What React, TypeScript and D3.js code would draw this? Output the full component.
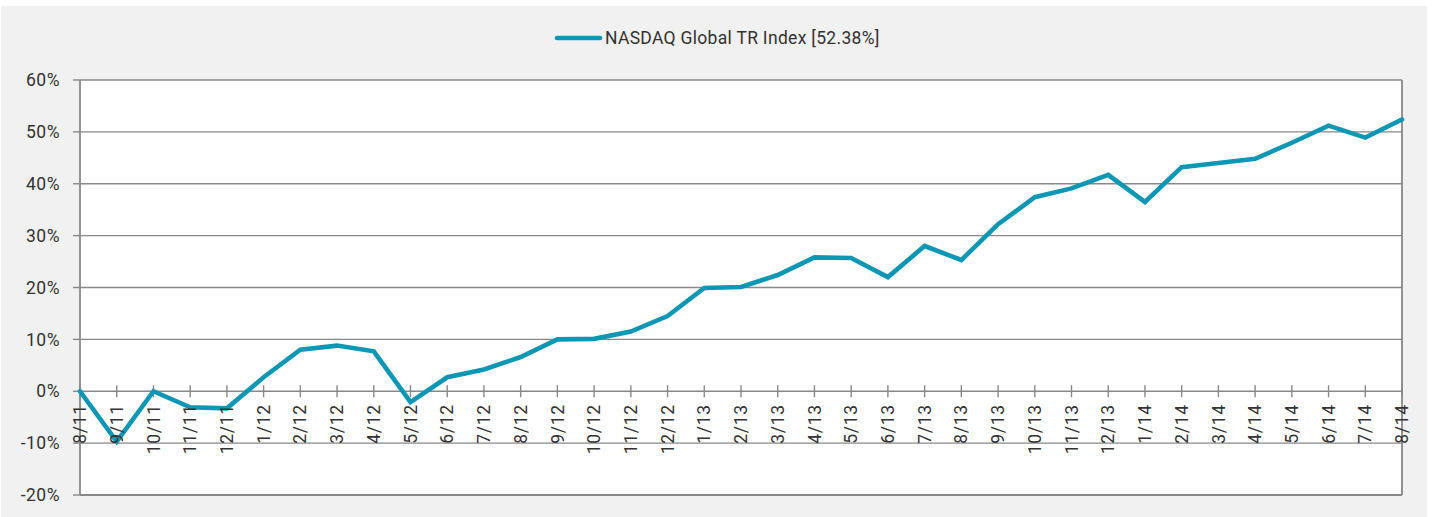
import React from "react";
import * as d3 from "d3";

const categories: string[] = [
  "8/11", "9/11", "10/11", "11/11", "12/11",
  "1/12", "2/12", "3/12", "4/12", "5/12", "6/12", "7/12", "8/12", "9/12", "10/12", "11/12", "12/12",
  "1/13", "2/13", "3/13", "4/13", "5/13", "6/13", "7/13", "8/13", "9/13", "10/13", "11/13", "12/13",
  "1/14", "2/14", "3/14", "4/14", "5/14", "6/14", "7/14", "8/14",
];

const nasdaqValues: number[] = [
  0, -9.7, 0, -3.1, -3.3,
  2.7, 8.0, 8.8, 7.7, -2.1, 2.7, 4.2, 6.6, 10.0, 10.1, 11.5, 14.5,
  19.9, 20.1, 22.4, 25.8, 25.7, 22.0, 28.0, 25.3, 32.2, 37.4, 39.1, 41.7,
  36.5, 43.2, 44.0, 44.8, 47.9, 51.2, 48.9, 52.38,
];

const yTicks: number[] = [-20, -10, 0, 10, 20, 30, 40, 50, 60];
const seriesName = "NASDAQ Global TR Index [52.38%]";

const W = 1432;
const H = 517;
const LEFT = 80;
const RIGHT = 1402;
const TOP = 80;
const BOTTOM = 495;
const LINE_COLOR = "#0d97b5";
const GRID = "#888888";
const TEXT = "#333333";
const FONT = "Roboto, 'DejaVu Sans', sans-serif";

export default function App() {
  const x = d3.scalePoint<string>().domain(categories).range([LEFT, RIGHT]);
  const y = d3.scaleLinear().domain([-20, 60]).range([BOTTOM, TOP]);
  const line = d3
    .line<number>()
    .x((_, i) => x(categories[i]) as number)
    .y((d) => y(d));
  const y0 = y(0);

  return (
    <svg
      width={W}
      height={H}
      style={{ position: "absolute", left: 0, top: 0, display: "block" }}
      fontFamily={FONT}
    >
      <rect x={0} y={0} width={W} height={H} fill="#ffffff" />
      <rect x={1} y={6} width={1426} height={H - 6} fill="#f1f1f1" />
      <rect x={LEFT} y={TOP} width={RIGHT - LEFT} height={BOTTOM - TOP} fill="#ffffff" />

      {yTicks.map((t) => (
        <line
          key={"g" + t}
          x1={LEFT}
          x2={RIGHT}
          y1={y(t)}
          y2={y(t)}
          stroke={GRID}
          strokeWidth={1.4}
        />
      ))}
      {yTicks.map((t) => (
        <line
          key={"yt" + t}
          x1={LEFT - 7}
          x2={LEFT}
          y1={y(t)}
          y2={y(t)}
          stroke={GRID}
          strokeWidth={1.4}
        />
      ))}
      <line x1={LEFT} x2={LEFT} y1={TOP} y2={BOTTOM} stroke={GRID} strokeWidth={1.8} />
      <line x1={RIGHT} x2={RIGHT} y1={TOP} y2={BOTTOM} stroke={GRID} strokeWidth={1.8} />
      <line x1={LEFT} x2={RIGHT} y1={BOTTOM} y2={BOTTOM} stroke={GRID} strokeWidth={1.8} />

      {yTicks.map((t) => (
        <text
          key={"yl" + t}
          x={60}
          y={y(t)}
          dy="0.35em"
          textAnchor="end"
          fontSize={17.5}
          letterSpacing={0.5}
          fill={TEXT}
        >
          {t + "%"}
        </text>
      ))}

      {categories.map((c) => (
        <line
          key={"xt" + c}
          x1={x(c)}
          x2={x(c)}
          y1={y0 - 6}
          y2={y0 + 6}
          stroke={GRID}
          strokeWidth={1.4}
        />
      ))}

      <path
        d={line(nasdaqValues) || ""}
        fill="none"
        stroke={LINE_COLOR}
        strokeWidth={4.6}
        strokeLinejoin="miter"
        strokeLinecap="round"
      />

      {categories.map((c) => (
        <text
          key={"xl" + c}
          transform={`translate(${x(c)},${y0 + 13}) rotate(-90)`}
          textAnchor="end"
          dy="0.35em"
          fontSize={17.5}
          letterSpacing={0.7}
          fill={TEXT}
        >
          {c}
        </text>
      ))}

      <line
        x1={557}
        x2={600}
        y1={38}
        y2={38}
        stroke={LINE_COLOR}
        strokeWidth={4.6}
        strokeLinecap="round"
      />
      <text x={605} y={38} dy="0.35em" fontSize={17.5} letterSpacing={0.3} fill={TEXT}>
        {seriesName}
      </text>
    </svg>
  );
}
